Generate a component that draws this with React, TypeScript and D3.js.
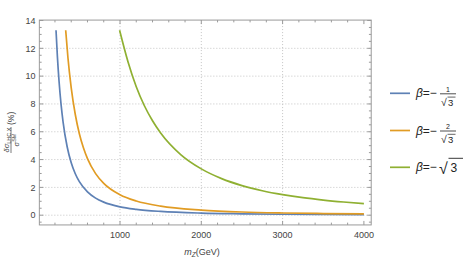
import React from 'react';
import * as d3 from 'd3';

// ---- data ----
const xTickValues = [1000, 2000, 3000, 4000];
const yTickValues = [0, 2, 4, 6, 8, 10, 12, 14];
const xGridValues = [1000, 2000, 3000];
const yGridValues = [0, 2, 4, 6, 8, 10, 12];

const massBlue = [213, 230, 250, 275, 300, 350, 400, 450, 500, 600, 700, 800, 1000, 1200, 1500, 2000, 2500, 3000, 3500, 4000];
const valBlue = [13.3, 11.4, 9.65, 7.97, 6.7, 4.92, 3.77, 2.98, 2.41, 1.68, 1.23, 0.94, 0.6, 0.42, 0.27, 0.15, 0.1, 0.067, 0.05, 0.038];

const massOrange = [332, 360, 400, 450, 500, 550, 600, 700, 800, 1000, 1200, 1500, 2000, 2500, 3000, 3500, 4000];
const valOrange = [13.3, 11.3, 9.16, 7.24, 5.86, 4.85, 4.07, 2.99, 2.29, 1.47, 1.02, 0.65, 0.37, 0.23, 0.16, 0.12, 0.09];

const massGreen = [995, 1100, 1200, 1300, 1400, 1500, 1750, 2000, 2250, 2500, 2750, 3000, 3250, 3500, 3750, 4000];
const valGreen = [13.3, 11.0, 9.24, 7.87, 6.79, 5.91, 4.34, 3.33, 2.63, 2.13, 1.76, 1.48, 1.26, 1.09, 0.95, 0.83];

const seriesColors = ['#5E81B5', '#E19C24', '#8FB032'];

export default function App() {
  const W = 472, H = 259;
  const x = d3.scaleLinear().domain([0, 4000]).range([38.7, 363.9]);
  const y = d3.scaleLinear().domain([0, 14]).range([215.2, 20.5]);
  const xLo = 8, xHi = 4090, yLo = -0.7, yHi = 14.03;
  const fL = x(xLo), fR = x(xHi), fT = y(yHi), fB = y(yLo);

  const line = d3.line<[number, number]>().x(d => x(d[0])).y(d => y(d[1])).curve(d3.curveMonotoneX);
  const series = [
    d3.zip(massBlue, valBlue) as [number, number][],
    d3.zip(massOrange, valOrange) as [number, number][],
    d3.zip(massGreen, valGreen) as [number, number][],
  ];

  const xMinor = d3.range(200, 4001, 200).filter(v => v % 1000 !== 0);
  const yMinor = d3.range(-0.5, 14.01, 0.5).filter(v => Math.abs(v % 2) > 1e-6);
  const frameColor = '#9a9a9a';
  const labelColor = '#444';
  const font = 'Liberation Sans, Arial, sans-serif';
  const majLen = 4, minLen = 2.3;

  const legendY = [93.3, 130.5, 167.3];

  return (
    <svg width={W} height={H} style={{ position: 'absolute', left: 0, top: 0, background: '#fff' }} fontFamily={font}>
      <defs>
        <clipPath id="plotclip">
          <rect x={fL} y={fT} width={fR - fL} height={fB - fT} />
        </clipPath>
      </defs>
      {/* grid */}
      {xGridValues.map(v => (
        <line key={'gx' + v} x1={x(v)} x2={x(v)} y1={fT} y2={fB} stroke="#c4c4c4" strokeWidth={1} strokeDasharray="1,2" />
      ))}
      {yGridValues.map(v => (
        <line key={'gy' + v} x1={fL} x2={fR} y1={y(v)} y2={y(v)} stroke="#c4c4c4" strokeWidth={1} strokeDasharray="1,2" />
      ))}
      {/* curves */}
      <g clipPath="url(#plotclip)">
        {series.map((s, i) => (
          <path key={'s' + i} d={line(s) || ''} fill="none" stroke={seriesColors[i]} strokeWidth={1.7} />
        ))}
      </g>
      {/* frame */}
      <rect x={fL} y={fT} width={fR - fL} height={fB - fT} fill="none" stroke={frameColor} strokeWidth={1} />
      {/* x ticks */}
      {xTickValues.map(v => (
        <g key={'xt' + v}>
          <line x1={x(v)} x2={x(v)} y1={fB} y2={fB - majLen} stroke={frameColor} />
          <line x1={x(v)} x2={x(v)} y1={fT} y2={fT + majLen} stroke={frameColor} />
          <text x={x(v)} y={238} fontSize={9} textAnchor="middle" fill={labelColor}>{v}</text>
        </g>
      ))}
      {xMinor.map(v => (
        <g key={'xm' + v}>
          <line x1={x(v)} x2={x(v)} y1={fB} y2={fB - minLen} stroke={frameColor} />
          <line x1={x(v)} x2={x(v)} y1={fT} y2={fT + minLen} stroke={frameColor} />
        </g>
      ))}
      {/* y ticks */}
      {yTickValues.map(v => (
        <g key={'yt' + v}>
          <line x1={fL} x2={fL + majLen} y1={y(v)} y2={y(v)} stroke={frameColor} />
          <line x1={fR} x2={fR - majLen} y1={y(v)} y2={y(v)} stroke={frameColor} />
          <text x={35.5} y={y(v) + 3.2} fontSize={9} textAnchor="end" fill={labelColor}>{v}</text>
        </g>
      ))}
      {yMinor.map(v => (
        <g key={'ym' + v}>
          <line x1={fL} x2={fL + minLen} y1={y(v)} y2={y(v)} stroke={frameColor} />
          <line x1={fR} x2={fR - minLen} y1={y(v)} y2={y(v)} stroke={frameColor} />
        </g>
      ))}
      {/* x label */}
      <text x={202} y={255} fontSize={9} textAnchor="middle" fill={labelColor}>
        <tspan fontStyle="italic">m</tspan>
        <tspan fontStyle="italic" fontSize={6.5} dy={2}>Z</tspan>
        <tspan dy={-2}>(GeV)</tspan>
      </text>
      {/* y label */}
      <g transform="translate(11,127) rotate(-90)" fill={labelColor}>
        <text x={-13} y={-2} fontSize={7.5} textAnchor="middle">
          <tspan fontStyle="italic">δσ</tspan>
          <tspan fontSize={5.5} dy={1.5}>LHC X</tspan>
        </text>
        <line x1={-26} x2={0} y1={0} y2={0} stroke={labelColor} strokeWidth={0.7} />
        <text x={-13} y={7.5} fontSize={7.5} textAnchor="middle">
          <tspan fontStyle="italic">σ</tspan>
          <tspan fontSize={5.5} dy={-2.5}>SM</tspan>
        </text>
        <text x={2} y={3} fontSize={8.5}>(%)</text>
      </g>
      {/* legend */}
      {legendY.map((ly, i) => (
        <line key={'ll' + i} x1={390} x2={410} y1={ly} y2={ly} stroke={seriesColors[i]} strokeWidth={1.7} />
      ))}
      {['1', '2'].map((num, i) => {
        const ly = legendY[i];
        return (
          <g key={'lf' + i} fill="#222">
            <text x={416} y={ly + 4} fontSize={12}>
              <tspan fontStyle="italic">β</tspan>=−
            </text>
            <text x={448} y={ly - 1.8} fontSize={7} textAnchor="middle">{num}</text>
            <line x1={440} x2={456} y1={ly + 0.5} y2={ly + 0.5} stroke="#222" strokeWidth={0.8} />
            <text x={441} y={ly + 12.5} fontSize={10.5}>√</text>
            <line x1={447.5} x2={455.5} y1={ly + 3.8} y2={ly + 3.8} stroke="#222" strokeWidth={0.7} />
            <text x={448} y={ly + 12.3} fontSize={9.5}>3</text>
          </g>
        );
      })}
      <g fill="#222">
        <text x={416} y={legendY[2] + 4} fontSize={12}>
          <tspan fontStyle="italic">β</tspan>=−
        </text>
        <text x={439} y={legendY[2] + 6.5} fontSize={16}>√</text>
        <line x1={448.5} x2={463} y1={legendY[2] - 9} y2={legendY[2] - 9} stroke="#222" strokeWidth={0.9} />
        <text x={450.5} y={legendY[2] + 4.5} fontSize={12}>3</text>
      </g>
    </svg>
  );
}
